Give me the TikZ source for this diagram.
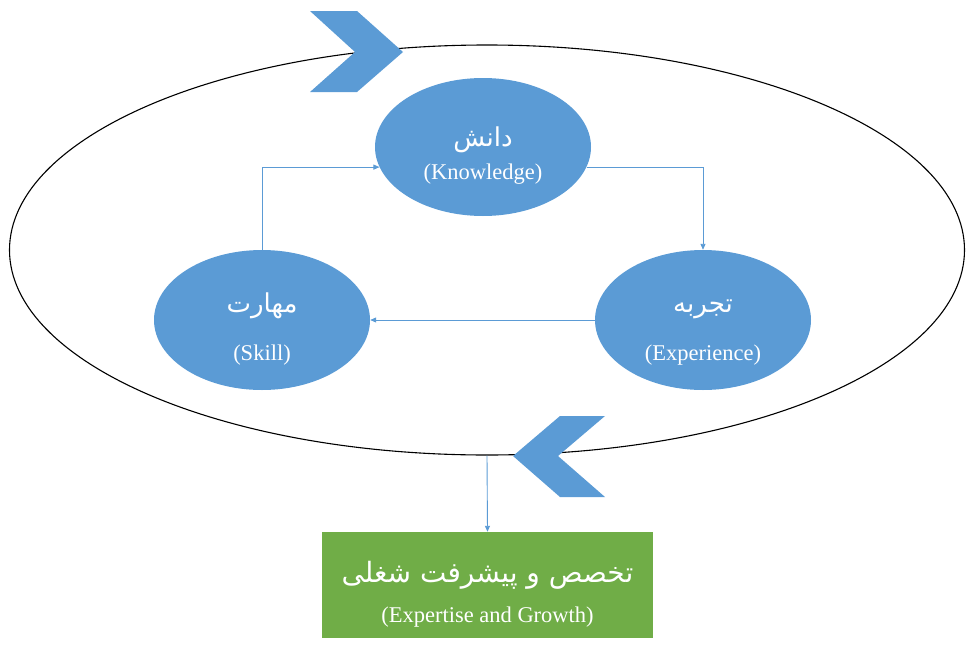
\documentclass[tikz,border=0pt]{standalone}
\usepackage{fontspec}
\setmainfont{Liberation Serif}
\newfontfamily\fa[Script=Arabic]{DejaVu Sans}
\TeXXeTstate=1
\usetikzlibrary{shapes.geometric,arrows.meta}
\definecolor{bl}{HTML}{5B9BD5}
\definecolor{gr}{HTML}{70AD47}
\begin{document}
\begin{tikzpicture}[x=1pt,y=-1pt,
 bub/.style={ellipse,fill=bl,text=white,minimum width=216pt,minimum height=138pt,inner sep=0pt,align=center},
 conn/.style={draw=bl,line width=0.9pt,-{Triangle[length=6pt,width=5pt]}},
 chev/.style={fill=bl}]
\useasboundingbox (0,0) rectangle (970,651);
\node[ellipse,draw=black,line width=1.1pt,minimum width=955pt,minimum height=410pt,inner sep=0pt] (big) at (487,250) {};
\fill[chev] (310,11) -- (357,11) -- (403,52) -- (357,92) -- (310,92) -- (355,52) -- cycle;
\fill[chev] (605,416) -- (560,416) -- (513,456) -- (560,497) -- (605,497) -- (558,456) -- cycle;
\node[bub] (know) at (483,147) {\rule{0pt}{36pt}{\fontsize{26}{30}\selectfont\fa\beginR دانش\endR}\\[10pt]{\fontsize{22.5}{26}\selectfont (Knowledge)}};
\node[bub,minimum height=140pt] (skill) at (262,320) {\rule{0pt}{38pt}{\fontsize{26}{30}\selectfont\fa\beginR مهارت\endR}\\[25pt]{\fontsize{22.5}{26}\selectfont (Skill)}};
\node[bub,minimum height=140pt] (exp) at (703,320) {\rule{0pt}{38pt}{\fontsize{26}{30}\selectfont\fa\beginR تجربه\endR}\\[25pt]{\fontsize{22.5}{26}\selectfont (Experience)}};
\node[rectangle,fill=gr,text=white,minimum width=331pt,minimum height=106pt,inner sep=0pt,align=center] (grow) at (487.5,585) {\rule{0pt}{40pt}{\fontsize{28}{34}\selectfont\fa\beginR تخصص و پیشرفت شغلی\endR}\\[17pt]{\fontsize{22.5}{26}\selectfont (Expertise and Growth)}};
\draw[conn] (skill.north) |- (know.191);
\draw[conn] (know.-11) -| (exp.north);
\draw[conn] (exp.west) -- (skill.east);
\draw[conn] (big.south) -- (grow.north);
\end{tikzpicture}
\end{document}
